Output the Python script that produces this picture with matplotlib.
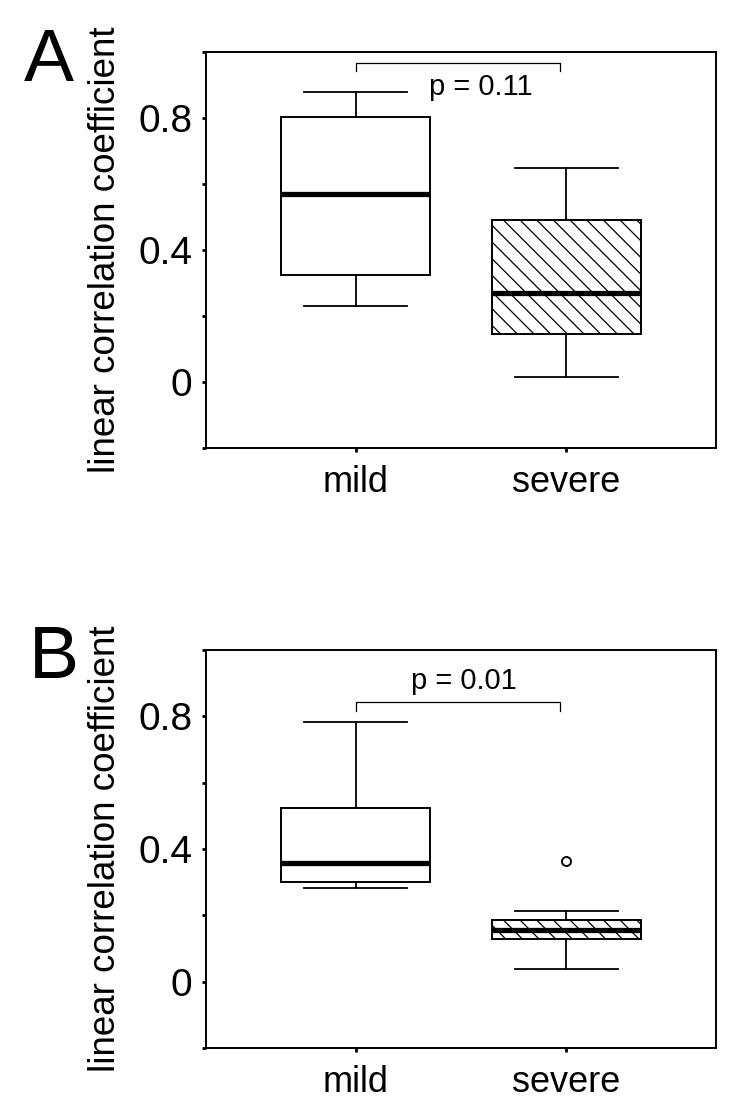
import matplotlib.pyplot as plt

plt.rcParams['font.family'] = ['Liberation Sans', 'DejaVu Sans']
plt.rcParams['hatch.linewidth'] = 0.9

# group labels
groups = ['mild', 'severe']

# box statistics: [mild, severe]
a_whislo = [0.229, 0.015]
a_q1 = [0.324, 0.147]
a_med = [0.569, 0.270]
a_q3 = [0.803, 0.492]
a_whishi = [0.878, 0.648]
a_fliers = [[], []]

b_whislo = [0.282, 0.037]
b_q1 = [0.300, 0.129]
b_med = [0.359, 0.157]
b_q3 = [0.523, 0.187]
b_whishi = [0.784, 0.214]
b_fliers = [[], [0.364]]

# significance annotation
p_text = ['p = 0.11', 'p = 0.01']
bracket_y = [0.968, 0.842]
text_y = [0.895, 0.905]
text_x = [1.595, 1.515]

yticks = [0, 0.4, 0.8]
yticklabels = ['0', '0.4', '0.8']
panel_letters = ['A', 'B']

fig = plt.figure(figsize=(7.5, 11.12), dpi=100)
ax_a = fig.add_axes([0.2747, 0.5971, 0.68, 0.3561])
ax_b = fig.add_axes([0.2747, 0.0576, 0.68, 0.3579])

panels = [
    (ax_a, a_whislo, a_q1, a_med, a_q3, a_whishi, a_fliers),
    (ax_b, b_whislo, b_q1, b_med, b_q3, b_whishi, b_fliers),
]

for i, (ax, wlo, q1, med, q3, whi, fl) in enumerate(panels):
    stats = []
    for j in range(len(groups)):
        stats.append(dict(whislo=wlo[j], q1=q1[j], med=med[j], q3=q3[j],
                          whishi=whi[j], fliers=fl[j], label=groups[j]))
    res = ax.bxp(stats, positions=[1, 2], widths=0.71, capwidths=0.49,
                 patch_artist=True,
                 boxprops=dict(facecolor='white', edgecolor='black', linewidth=1.4),
                 medianprops=dict(color='black', linewidth=3.8, solid_capstyle='butt'),
                 whiskerprops=dict(color='black', linewidth=1.3),
                 capprops=dict(color='black', linewidth=1.3),
                 flierprops=dict(marker='o', markersize=6.5, markerfacecolor='white',
                                 markeredgecolor='black', markeredgewidth=1.4))
    # severe group is hatched
    res['boxes'][1].set_hatch('\\\\')

    ax.set_xlim(0.29, 2.71)
    ax.set_ylim(-0.2, 1.0)
    ax.set_yticks(yticks)
    ax.set_yticklabels(yticklabels)
    ax.set_yticks([-0.2, 0.2, 0.6, 1.0], minor=True)
    ax.tick_params(axis='y', which='both', direction='out', length=3, width=2,
                   labelsize=28, pad=7)
    ax.tick_params(axis='x', direction='out', length=3, width=2, labelsize=26, pad=9)
    for s in ax.spines.values():
        s.set_linewidth(1.4)

    ax.set_ylabel('linear correlation coefficient', fontsize=26.5)
    ax.yaxis.set_label_coords(-0.162, 0.5)

    # significance bracket
    by = bracket_y[i]
    ax.plot([1.0, 1.0, 1.97, 1.97], [by - 0.025, by, by, by - 0.025],
            color='black', linewidth=0.9)
    ax.text(text_x[i], text_y[i], p_text[i], fontsize=21, ha='center', va='center')

fig.text(0.032, 0.927, panel_letters[0], fontsize=54, va='baseline')
fig.text(0.039, 0.3903, panel_letters[1], fontsize=54, va='baseline')

fig.savefig('out.png', dpi=100, facecolor='white')
